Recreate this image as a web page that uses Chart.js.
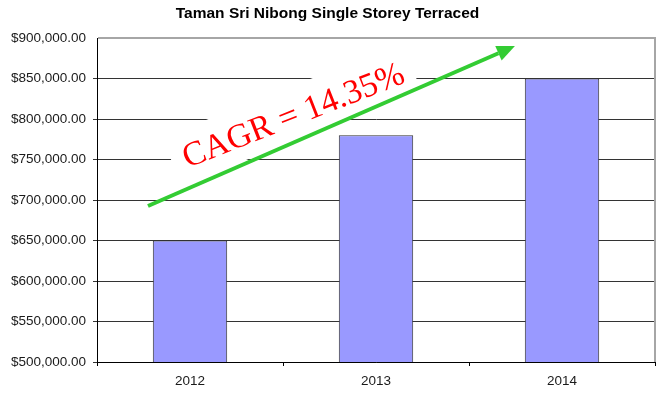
<!DOCTYPE html>
<html>
<head>
<meta charset="utf-8">
<script src="https://cdn.jsdelivr.net/npm/chart.js@4"></script>
<style>
  html, body { margin: 0; padding: 0; background: #fff; }
  #wrap { width: 666px; height: 398px; }
</style>
</head>
<body>
<div id="wrap"><canvas id="chart" width="666" height="398"></canvas></div>
<script>
const years = ['2012', '2013', '2014'];
const prices = [650000, 780000, 850000];
const yMin = 500000;
const yMax = 900000;
const yStep = 50000;

const chartTitle = 'Taman Sri Nibong Single Storey Terraced';
const cagrLabel = 'CAGR = 14.35%';
// arrow and label anchored in chart units: [category index, price]
const arrowFrom = [-0.226, 692600];
const arrowTo = [1.747, 890000];
const labelAt = [0.562, 800700];
const labelAngle = 21.5;

const money = v => '$' + v.toLocaleString('en-US', { minimumFractionDigits: 2, maximumFractionDigits: 2 });

const cagrArrow = {
    id: 'cagrArrow',
    afterDatasetsDraw(chart) {
        const { ctx, scales: { x, y } } = chart;
        const x1 = x.getPixelForValue(arrowFrom[0]), y1 = y.getPixelForValue(arrowFrom[1]);
        const x2 = x.getPixelForValue(arrowTo[0]), y2 = y.getPixelForValue(arrowTo[1]);
        const ang = Math.atan2(y2 - y1, x2 - x1);

        // text box (white, hides grid lines behind it)
        const cx = x.getPixelForValue(labelAt[0]), cy = y.getPixelForValue(labelAt[1]);
        ctx.save();
        ctx.translate(cx, cy);
        ctx.rotate(-labelAngle * Math.PI / 180);
        ctx.fillStyle = '#ffffff';
        ctx.fillRect(-130, -31, 258, 52);
        ctx.fillStyle = '#ff0000';
        ctx.font = '34px "Liberation Serif", "Times New Roman", serif';
        ctx.textAlign = 'center';
        ctx.textBaseline = 'alphabetic';
        ctx.fillText(cagrLabel, 0, 7);
        ctx.restore();

        // arrow
        const headLen = 18, headW = 8;
        const bx = x2 - headLen * Math.cos(ang), by = y2 - headLen * Math.sin(ang);
        ctx.save();
        ctx.strokeStyle = '#33cc33';
        ctx.fillStyle = '#33cc33';
        ctx.lineWidth = 4;
        ctx.beginPath();
        ctx.moveTo(x1, y1);
        ctx.lineTo(bx, by);
        ctx.stroke();
        ctx.beginPath();
        ctx.moveTo(x2, y2);
        ctx.lineTo(bx + headW * Math.sin(ang), by - headW * Math.cos(ang));
        ctx.lineTo(bx - headW * Math.sin(ang), by + headW * Math.cos(ang));
        ctx.closePath();
        ctx.fill();
        ctx.restore();
    }
};

const plotFrame = {
    id: 'plotFrame',
    afterDraw(chart) {
        const { ctx, chartArea: a } = chart;
        ctx.save();
        ctx.strokeStyle = '#a6a6a6';
        ctx.lineWidth = 2;
        ctx.beginPath();
        ctx.moveTo(a.left + 1, a.top);
        ctx.lineTo(a.right, a.top);
        ctx.lineTo(a.right, a.bottom);
        ctx.stroke();
        ctx.restore();
    }
};

new Chart(document.getElementById('chart'), {
    type: 'bar',
    data: {
        labels: years,
        datasets: [{
            data: prices,
            backgroundColor: '#9999ff',
            borderColor: '#333333',
            borderWidth: 1,
            barPercentage: 0.4,
            categoryPercentage: 1
        }]
    },
    options: {
        responsive: false,
        animation: false,
        layout: { padding: { top: 0, right: 11, bottom: 0, left: 0 } },
        plugins: {
            legend: { display: false },
            tooltip: { enabled: false },
            title: {
                display: true,
                text: chartTitle,
                color: '#000000',
                font: { family: '"Liberation Sans", Arial, sans-serif', size: 15.5, weight: 'bold' },
                padding: { top: 4, bottom: 15.4 }
            }
        },
        scales: {
            x: {
                afterFit: s => { s.height = 36; },
                grid: { display: true, drawOnChartArea: false, offset: true, tickLength: 4, color: '#000000' },
                border: { color: '#000000', width: 1 },
                ticks: {
                    color: '#1a1a1a',
                    padding: 7,
                    font: { family: '"Liberation Sans", Arial, sans-serif', size: 13.5 }
                }
            },
            y: {
                min: yMin,
                max: yMax,
                afterFit: s => { s.width = 97; },
                grid: {
                    tickLength: 4,
                    color: ctx => ctx.tick && ctx.tick.value === yMax ? 'rgba(0,0,0,0)' : '#333333'
                },
                border: { color: '#000000', width: 1 },
                ticks: {
                    stepSize: yStep,
                    color: '#1a1a1a',
                    padding: 7,
                    font: { family: '"Liberation Sans", Arial, sans-serif', size: 13.5 },
                    callback: v => money(v)
                }
            }
        }
    },
    plugins: [plotFrame, cagrArrow]
});
</script>
</body>
</html>
